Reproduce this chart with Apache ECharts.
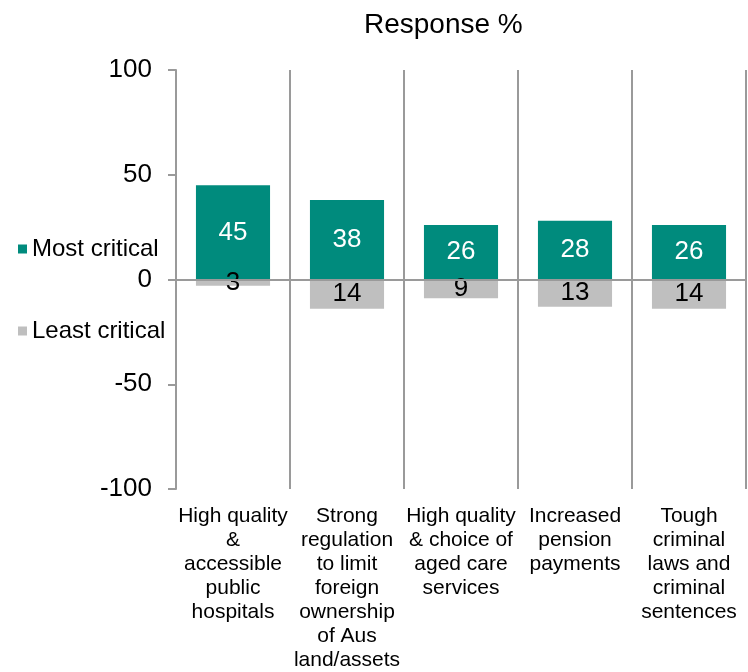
<!DOCTYPE html>
<html><head><meta charset="utf-8">
<script src="https://cdn.jsdelivr.net/npm/echarts@6/dist/echarts.min.js"></script>
<style>html,body{margin:0;padding:0;background:#fff}#c{width:748px;height:672px}</style>
</head><body><div id="c"></div>
<script>
const categories = [
  "High quality\n&\naccessible\npublic\nhospitals",
  "Strong\nregulation\nto limit\nforeign\nownership\nof Aus\nland/assets",
  "High quality\n& choice of\naged care\nservices",
  "Increased\npension\npayments",
  "Tough\ncriminal\nlaws and\ncriminal\nsentences"
];
const mostCritical = [45, 38, 26, 28, 26];
const leastCritical = [-3, -14, -9, -13, -14];
const yTicks = [-100, -50, 0, 50, 100];

const font = '"Liberation Sans", Arial, sans-serif';
const chart = echarts.init(document.getElementById('c'), null, {renderer: 'canvas'});
chart.setOption({
  animation: false,
  textStyle: {fontFamily: font},
  title: {text: 'Response %', left: 359, top: 6,
    textStyle: {fontFamily: font, fontSize: 28, fontWeight: 'normal', color: '#000'}},
  legend: {
    orient: 'vertical', left: 13, top: 232, itemGap: 58,
    icon: 'rect', itemWidth: 9, itemHeight: 9,
    textStyle: {fontFamily: font, fontSize: 24, color: '#000'},
    data: ['Most critical', 'Least critical']
  },
  grid: {left: 176, right: 2, top: 70, bottom: 182},
  xAxis: {
    type: 'category', data: categories,
    axisLine: {show: false, onZero: false},
    axisTick: {show: false},
    splitLine: {show: true, lineStyle: {color: '#9a9a9a', width: 2}},
    axisLabel: {fontFamily: font, fontSize: 21, lineHeight: 24, color: '#000', margin: 15, interval: 0}
  },
  yAxis: {
    type: 'value', min: yTicks[0], max: yTicks[yTicks.length - 1], interval: 50,
    axisLine: {show: true, lineStyle: {color: '#9a9a9a', width: 2}},
    axisTick: {show: true, length: 8, lineStyle: {color: '#9a9a9a', width: 2}},
    splitLine: {show: false},
    axisLabel: {fontFamily: font, fontSize: 26, color: '#000', margin: 24}
  },
  series: [
    {
      name: 'Most critical', type: 'bar', stack: 's', data: mostCritical, barWidth: '65%',
      itemStyle: {color: '#008B7D'},
      label: {show: true, position: 'inside', color: '#fff', fontSize: 26, fontFamily: font},
      markLine: {silent: true, symbol: 'none', label: {show: false},
        lineStyle: {color: '#9a9a9a', width: 2, type: 'solid'}, data: [{yAxis: 0}]}
    },
    {
      name: 'Least critical', type: 'bar', stack: 's', data: leastCritical, barWidth: '65%',
      itemStyle: {color: '#BFBFBF'},
      label: {show: true, position: 'inside', color: '#000', fontSize: 26, fontFamily: font,
        formatter: p => Math.abs(p.value)}
    }
  ]
});
</script></body></html>
